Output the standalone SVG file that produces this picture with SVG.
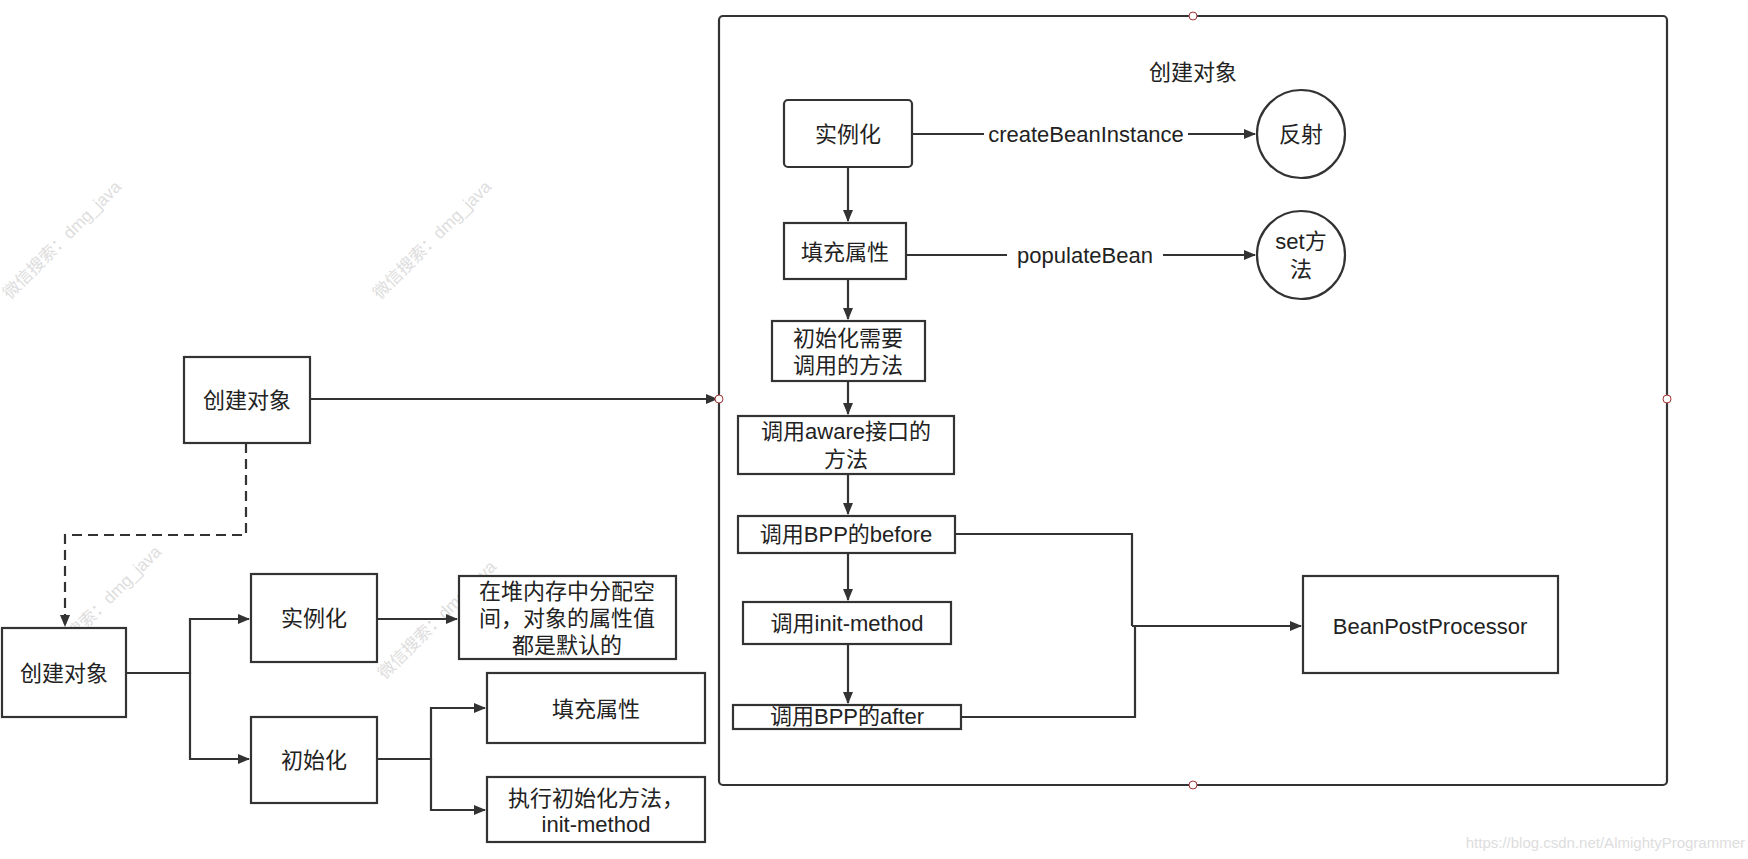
<svg xmlns="http://www.w3.org/2000/svg" width="1748" height="859" viewBox="0 0 1748 859">
<defs>
<marker id="a" markerWidth="12" markerHeight="10" refX="11" refY="5" orient="auto" markerUnits="userSpaceOnUse"><path d="M0,0 L12,5 L0,10 z" fill="#333"/></marker>
<style>
.b{fill:#fff;stroke:#333;stroke-width:2.2}
.t{font-family:"Liberation Sans","Noto Sans CJK SC",sans-serif;font-size:22px;fill:#222;text-anchor:middle;dominant-baseline:central}
.c{fill:none;stroke:#333;stroke-width:2.2}
.w{font-family:"Liberation Sans","Noto Sans CJK SC",sans-serif;font-size:17px;fill:#ddd}
.h{fill:#fff;stroke:#a33;stroke-width:1}
</style>
</defs>
<rect width="1748" height="859" fill="#fff"/>
<g id="watermarks">
<text class="w" transform="translate(10,300) rotate(-45)">微信搜索：dmg_java</text>
<text class="w" transform="translate(380,300) rotate(-45)">微信搜索：dmg_java</text>
<text class="w" transform="translate(50,665) rotate(-45)">微信搜索：dmg_java</text>
<text class="w" transform="translate(385,680) rotate(-45)">微信搜索：dmg_java</text>
<text class="w" x="1745" y="848" text-anchor="end" style="font-size:15px">https://blog.csdn.net/AlmightyProgrammer</text>
</g>
<g id="container">
<rect class="b" x="719" y="16" width="948" height="769" rx="4"/>
<text class="t" x="1193" y="72">创建对象</text>
</g>
<g id="connectors">
<path class="c" d="M310,399 H717" marker-end="url(#a)"/>
<path class="c" d="M246,443 V535 H65 V626" stroke-dasharray="10,6" marker-end="url(#a)"/>
<path class="c" d="M126,673 H190 V619 H249" marker-end="url(#a)"/>
<path class="c" d="M190,673 V759 H249" marker-end="url(#a)"/>
<path class="c" d="M377,619 H457" marker-end="url(#a)"/>
<path class="c" d="M377,759 H431 V708 H485" marker-end="url(#a)"/>
<path class="c" d="M431,759 V810 H485" marker-end="url(#a)"/>
<path class="c" d="M912,134 H1255" marker-end="url(#a)"/>
<path class="c" d="M906,255 H1255" marker-end="url(#a)"/>
<path class="c" d="M848,167 V221" marker-end="url(#a)"/>
<path class="c" d="M848,279 V319" marker-end="url(#a)"/>
<path class="c" d="M848,381 V414" marker-end="url(#a)"/>
<path class="c" d="M848,474 V514" marker-end="url(#a)"/>
<path class="c" d="M848,553 V600" marker-end="url(#a)"/>
<path class="c" d="M848,644 V703" marker-end="url(#a)"/>
<path class="c" d="M955,534 H1132 V626"/>
<path class="c" d="M961,717 H1135 V626"/>
<path class="c" d="M1132,626 H1301" marker-end="url(#a)"/>
<rect x="984" y="122" width="204" height="24" fill="#fff"/>
<text class="t" x="1086" y="134">createBeanInstance</text>
<rect x="1007" y="243" width="156" height="24" fill="#fff"/>
<text class="t" x="1085" y="255">populateBean</text>
</g>
<g id="handles">
<circle class="h" cx="1193" cy="16" r="4"/>
<circle class="h" cx="719" cy="399" r="4"/>
<circle class="h" cx="1667" cy="399" r="4"/>
<circle class="h" cx="1193" cy="785" r="4"/>
</g>
<g id="n-create-top"><rect class="b" x="184" y="357" width="126" height="86"/><text class="t" x="247" y="400">创建对象</text></g>
<g id="n-create-bottom"><rect class="b" x="2" y="628" width="124" height="89"/><text class="t" x="64" y="673">创建对象</text></g>
<g id="n-inst"><rect class="b" x="251" y="574" width="126" height="88"/><text class="t" x="314" y="618">实例化</text></g>
<g id="n-init"><rect class="b" x="251" y="717" width="126" height="86"/><text class="t" x="314" y="760">初始化</text></g>
<g id="n-heap"><rect class="b" x="459" y="576" width="217" height="83"/><text class="t" x="567" y="591">在堆内存中分配空</text><text class="t" x="567" y="618">间，对象的属性值</text><text class="t" x="567" y="645">都是默认的</text></g>
<g id="n-fill"><rect class="b" x="487" y="673" width="218" height="70"/><text class="t" x="596" y="709">填充属性</text></g>
<g id="n-exec"><rect class="b" x="487" y="777" width="218" height="65"/><text class="t" x="596" y="798">执行初始化方法，</text><text class="t" x="596" y="824">init-method</text></g>
<g id="r-inst"><rect class="b" x="784" y="100" width="128" height="67" rx="4"/><text class="t" x="848" y="134">实例化</text></g>
<g id="r-reflect"><circle class="b" cx="1301" cy="134" r="44"/><text class="t" x="1301" y="134">反射</text></g>
<g id="r-fill"><rect class="b" x="784" y="223" width="122" height="56"/><text class="t" x="845" y="252">填充属性</text></g>
<g id="r-set"><circle class="b" cx="1301" cy="255" r="44"/><text class="t" x="1301" y="241">set方</text><text class="t" x="1301" y="269">法</text></g>
<g id="r-initneed"><rect class="b" x="772" y="321" width="153" height="60"/><text class="t" x="848" y="338">初始化需要</text><text class="t" x="848" y="365">调用的方法</text></g>
<g id="r-aware"><rect class="b" x="738" y="416" width="216" height="58"/><text class="t" x="846" y="431">调用aware接口的</text><text class="t" x="846" y="459">方法</text></g>
<g id="r-before"><rect class="b" x="738" y="516" width="217" height="37"/><text class="t" x="846" y="534">调用BPP的before</text></g>
<g id="r-initm"><rect class="b" x="743" y="602" width="208" height="42"/><text class="t" x="847" y="623">调用init-method</text></g>
<g id="r-after"><rect class="b" x="733" y="705" width="228" height="24"/><text class="t" x="847" y="716">调用BPP的after</text></g>
<g id="r-bpp"><rect class="b" x="1303" y="576" width="255" height="97"/><text class="t" x="1430" y="626">BeanPostProcessor</text></g>
</svg>
